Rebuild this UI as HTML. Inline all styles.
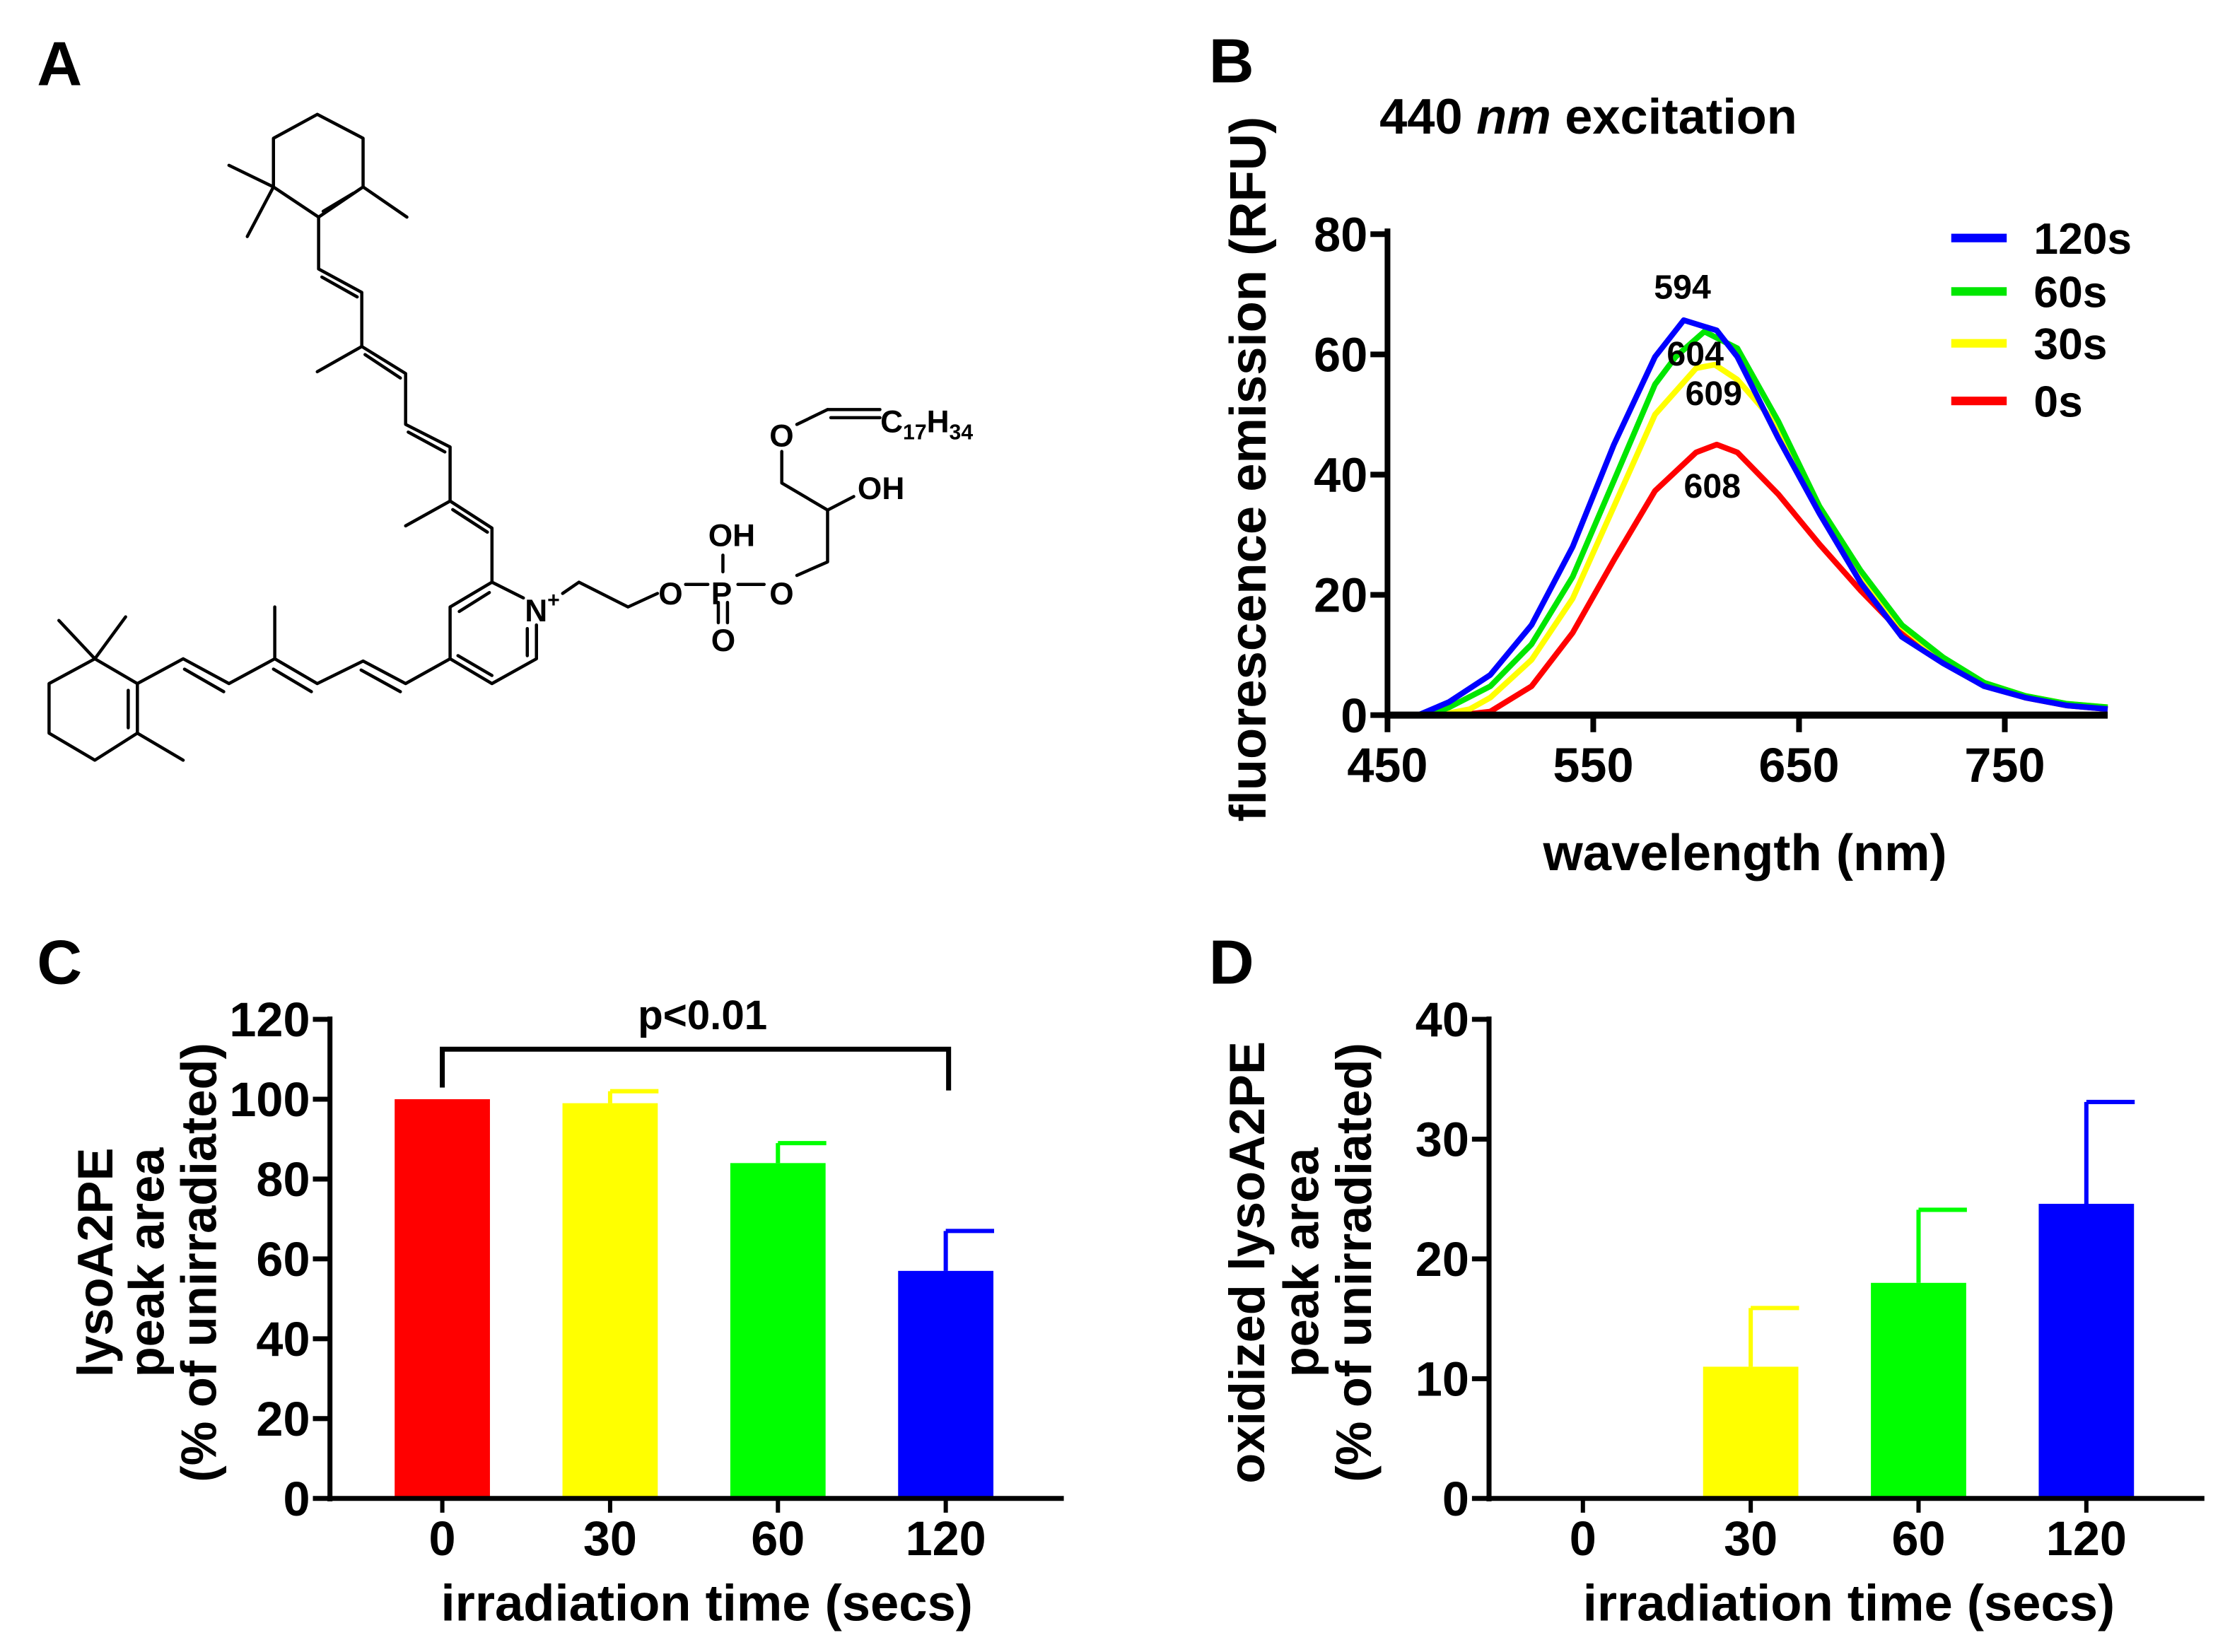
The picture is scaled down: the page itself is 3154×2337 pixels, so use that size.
<!DOCTYPE html>
<html><head><meta charset="utf-8"><style>
html,body{margin:0;padding:0;background:#fff;}
svg{display:block;}
text{font-family:"Liberation Sans",sans-serif;font-weight:bold;fill:#000;}
</style></head><body>
<svg id="fig" width="3154" height="2337" viewBox="0 0 1568 1162" preserveAspectRatio="none" xmlns="http://www.w3.org/2000/svg">
<rect width="1568" height="1162" fill="#fff"/>
<text x="26" y="60" font-size="44">A</text>
<text x="850" y="58" font-size="44">B</text>
<text x="26" y="692" font-size="44">C</text>
<text x="850" y="692" font-size="44">D</text>

<!-- Panel A structure -->
<g>
<g transform="translate(0,49.7) scale(0.46,0.317)" fill="none" stroke="#000" stroke-width="4.5" vector-effect="non-scaling-stroke" stroke-linejoin="round" stroke-linecap="round">
<polyline vector-effect="non-scaling-stroke" points="485,97 555,150 555,258 487,325 418,258 418,150 485,97"/>
<line vector-effect="non-scaling-stroke" x1="540" y1="272" x2="494" y2="312"/>
<line vector-effect="non-scaling-stroke" x1="418" y1="258" x2="350" y2="210"/>
<line vector-effect="non-scaling-stroke" x1="418" y1="258" x2="378" y2="368"/>
<line vector-effect="non-scaling-stroke" x1="555" y1="258" x2="622" y2="325"/>
<polyline vector-effect="non-scaling-stroke" points="487,325 487,440 553,492 553,612 620,672 620,785 688,835 688,955 752,1015 752,1135"/>
<line vector-effect="non-scaling-stroke" x1="492" y1="458" x2="546" y2="502"/>
<line vector-effect="non-scaling-stroke" x1="558" y1="630" x2="612" y2="682"/>
<line vector-effect="non-scaling-stroke" x1="624" y1="802" x2="680" y2="846"/>
<line vector-effect="non-scaling-stroke" x1="692" y1="974" x2="745" y2="1024"/>
<line vector-effect="non-scaling-stroke" x1="553" y1="612" x2="485" y2="668"/>
<line vector-effect="non-scaling-stroke" x1="688" y1="955" x2="620" y2="1010"/>
<polyline vector-effect="non-scaling-stroke" points="800,1170 752,1135 688,1190 688,1305 752,1360 820,1305 820,1230"/>
<line vector-effect="non-scaling-stroke" x1="702" y1="1200" x2="748" y2="1158"/>
<line vector-effect="non-scaling-stroke" x1="700" y1="1298" x2="752" y2="1342"/>
<line vector-effect="non-scaling-stroke" x1="806" y1="1298" x2="806" y2="1238"/>
<polyline vector-effect="non-scaling-stroke" points="860,1160 885,1135 960,1190 1005,1160"/>
<line vector-effect="non-scaling-stroke" x1="1048" y1="1140" x2="1082" y2="1140"/>
<line vector-effect="non-scaling-stroke" x1="1128" y1="1140" x2="1168" y2="1140"/>
<line vector-effect="non-scaling-stroke" x1="1105" y1="1112" x2="1105" y2="1075"/>
<line vector-effect="non-scaling-stroke" x1="1098" y1="1180" x2="1098" y2="1225"/>
<line vector-effect="non-scaling-stroke" x1="1112" y1="1180" x2="1112" y2="1225"/>
<polyline vector-effect="non-scaling-stroke" points="1218,1120 1265,1090 1265,975 1195,915 1195,845"/>
<line vector-effect="non-scaling-stroke" x1="1265" y1="975" x2="1305" y2="945"/>
<line vector-effect="non-scaling-stroke" x1="1218" y1="785" x2="1265" y2="752"/>
<line vector-effect="non-scaling-stroke" x1="1265" y1="752" x2="1345" y2="752"/>
<line vector-effect="non-scaling-stroke" x1="1270" y1="770" x2="1345" y2="770"/>
<polyline vector-effect="non-scaling-stroke" points="688,1305 620,1360 555,1310 485,1360 420,1305 350,1360 280,1305 210,1360"/>
<line vector-effect="non-scaling-stroke" x1="612" y1="1378" x2="552" y2="1330"/>
<line vector-effect="non-scaling-stroke" x1="476" y1="1378" x2="418" y2="1328"/>
<line vector-effect="non-scaling-stroke" x1="342" y1="1378" x2="282" y2="1328"/>
<line vector-effect="non-scaling-stroke" x1="420" y1="1305" x2="420" y2="1190"/>
<polyline vector-effect="non-scaling-stroke" points="210,1360 145,1305 75,1360 75,1470 145,1530 210,1470 210,1360"/>
<line vector-effect="non-scaling-stroke" x1="196" y1="1375" x2="196" y2="1458"/>
<line vector-effect="non-scaling-stroke" x1="145" y1="1305" x2="90" y2="1220"/>
<line vector-effect="non-scaling-stroke" x1="145" y1="1305" x2="192" y2="1212"/>
<line vector-effect="non-scaling-stroke" x1="210" y1="1470" x2="280" y2="1530"/>
</g>
<g font-size="22">
<text x="369" y="437">N<tspan font-size="15" dy="-10">+</tspan></text>
<text x="463" y="425">O</text>
<text x="500" y="425">P</text>
<text x="541" y="425">O</text>
<text x="498" y="384">OH</text>
<text x="500" y="458">O</text>
<text x="541" y="314">O</text>
<text x="603" y="351">OH</text>
<text x="619" y="304">C<tspan font-size="15" dy="5">17</tspan><tspan dy="-5">H</tspan><tspan font-size="15" dy="5">34</tspan></text>
</g>
</g>

<!-- Panel B -->
<g id="panelB"></g>
<!-- Panel C -->
<g id="panelC"></g>
<!-- Panel D -->
<g id="panelD"></g>
</svg>
<script>
// ---- Panel B data ----
const seriesNames = ["120s","60s","30s","0s"];
const seriesColors = ["#0000ff","#00e600","#ffff00","#ff0000"];
const wl120 = [465,480,500,520,540,560,580,594,610,620,640,660,680,700,720,740,760,780,800];
const v120  = [0,2.2,6.7,15,28,45,59.6,65.7,64,59.6,46,33.5,22,13,8.6,4.8,2.9,1.6,1];
const wl60 = [470,480,500,520,540,560,580,590,604,620,640,660,680,700,720,740,760,780,800];
const v60  = [0,1.3,4.8,11.8,23,39,55,59.6,63.8,61,48.8,34.7,24,15,9.6,5.4,3.2,1.9,1.3];
const wl30 = [475,490,500,520,540,560,580,600,609,620,640,660,680,700,720,740,760,780,800];
const v30  = [0,1,2.9,9.2,19.4,34.7,50,57.7,58.3,55.8,48,34,23,14.7,9.2,5.4,3.2,1.9,1.3];
const wl0 = [485,500,520,540,560,580,600,610,620,640,660,680,700,720,740,760,780,800];
const v0  = [0,0.6,4.8,13.7,25.8,37.3,43.7,45,43.7,36.7,28.4,20.7,13.7,9.2,5.1,2.9,1.6,1];
const xTicksB = [450,550,650,750];
const yTicksB = [0,20,40,60,80];
const peakLabels = ["594","604","609","608"];
const peakLabelPos = [[1183,210],[1192,257],[1205,285],[1204,350]];
// ---- Panel C data ----
const catsC = ["0","30","60","120"];
const valsC = [100,99,84,57];
const errC  = [0,3,5,10];
const yTicksC = [0,20,40,60,80,100,120];
// ---- Panel D data ----
const catsD = ["0","30","60","120"];
const valsD = [0,11,18,24.6];
const errD  = [0,4.9,6.1,8.5];
const yTicksD = [0,10,20,30,40];
const barColors = ["#ff0000","#ffff00","#00ff00","#0000ff"];

const NS="http://www.w3.org/2000/svg";
function mk(parent,tag,attrs,text){const e=document.createElementNS(NS,tag);for(const k in attrs)e.setAttribute(k,attrs[k]);if(text!==undefined)e.textContent=text;parent.appendChild(e);return e;}

// Panel B
(function(){
  const g=document.getElementById('panelB');
  const x0=975.6,x1=1482,y0=503,y1=164.7;
  const X=w=>x0+(w-450)*(1482-975.6)/(800-450);
  const Y=v=>y0-(v)*(y0-y1)/80;
  const wls=[wl120,wl60,wl30,wl0], vs=[v120,v60,v30,v0];
  for(let s=3;s>=0;s--){
    const pts=wls[s].map((w,i)=>X(w).toFixed(1)+','+Y(vs[s][i]).toFixed(1)).join(' ');
    const p=mk(g,'polyline',{points:pts,fill:'none',stroke:seriesColors[s],'stroke-width':4,'stroke-linejoin':'round'});
    
    
  }
  mk(g,'line',{x1:x0,y1:y1-4,x2:x0,y2:y0+2,stroke:'#000','stroke-width':4});
  mk(g,'line',{x1:x0-2,y1:y0,x2:x1,y2:y0,stroke:'#000','stroke-width':5});
  yTicksB.forEach(t=>{mk(g,'line',{x1:x0-12,y1:Y(t),x2:x0,y2:Y(t),stroke:'#000','stroke-width':4});
    const tl=mk(g,'text',{x:x0-14,y:Y(t)+12,'font-size':34,'text-anchor':'end'},t);
    
    });
  xTicksB.forEach(t=>{mk(g,'line',{x1:X(t),y1:y0,x2:X(t),y2:y0+12,stroke:'#000','stroke-width':4});
    const tl=mk(g,'text',{x:X(t),y:y0+47,'font-size':34,'text-anchor':'middle'},t);
    
    });
  peakLabels.forEach((l,i)=>{const t=mk(g,'text',{x:peakLabelPos[i][0],y:peakLabelPos[i][1],'font-size':24,'text-anchor':'middle'},l);
    
    });
  const legY=[167.4,205,241.5,282];
  seriesNames.forEach((n,i)=>{
    const l=mk(g,'line',{x1:1372,y1:legY[i],x2:1411,y2:legY[i],stroke:seriesColors[i],'stroke-width':6});
    
    
    const t=mk(g,'text',{x:1430,y:legY[i]+11,'font-size':31},n);
    
    
  });
  const tt=mk(g,'text',{x:970,y:94,'font-size':35});
  tt.innerHTML='440 <tspan font-style="italic">nm</tspan> excitation';
  
  
  const xt=mk(g,'text',{x:1227,y:612,'font-size':36,'text-anchor':'middle'},'wavelength (nm)');
  
  
  const yt=mk(g,'text',{x:0,y:0,'font-size':36,'text-anchor':'middle',transform:'translate(890,330) rotate(-90)'},'fluorescence emission (RFU)');
  
  
})();

function barChart(id,cats,vals,errs,ticks,ymax,ax,axEnd,firstCenter,yLines,yLineX,xTitleX){
  const g=document.getElementById(id);
  const y0=1054,yTop=717;
  const Y=v=>y0-v*(y0-yTop)/ymax;
  const bw=67, step=118;
  cats.forEach((c,i)=>{
    const cx=firstCenter+i*step;
    if(vals[i]>0){
      if(errs[i]>0){
        const e=mk(g,'line',{x1:cx,y1:Y(vals[i]),x2:cx,y2:Y(vals[i]+errs[i]),stroke:barColors[i],'stroke-width':3});
        
        
        mk(g,'line',{x1:cx,y1:Y(vals[i]+errs[i]),x2:cx+34,y2:Y(vals[i]+errs[i]),stroke:barColors[i],'stroke-width':3});
      }
      const r=mk(g,'rect',{x:cx-bw/2,y:Y(vals[i]),width:bw,height:y0-Y(vals[i]),fill:barColors[i]});
      
      
    }
    mk(g,'line',{x1:cx,y1:y0,x2:cx,y2:y0+10,stroke:'#000','stroke-width':3});
    const t=mk(g,'text',{x:cx,y:y0+40,'font-size':34,'text-anchor':'middle'},c);
    
    
  });
  mk(g,'line',{x1:ax,y1:yTop-2,x2:ax,y2:y0+2,stroke:'#000','stroke-width':3.5});
  mk(g,'line',{x1:ax-2,y1:y0,x2:axEnd,y2:y0,stroke:'#000','stroke-width':3.5});
  ticks.forEach(t=>{
    mk(g,'line',{x1:ax-12,y1:Y(t),x2:ax,y2:Y(t),stroke:'#000','stroke-width':3.5});
    const l=mk(g,'text',{x:ax-14,y:Y(t)+12,'font-size':34,'text-anchor':'end'},t);
    
    
  });
  const xt=mk(g,'text',{x:xTitleX,y:1140,'font-size':36,'text-anchor':'middle'},'irradiation time (secs)');
  
  
  yLines.forEach((s,i)=>{
    const t=mk(g,'text',{x:0,y:0,'font-size':35,'text-anchor':'middle',transform:'translate('+yLineX[i]+',888) rotate(-90)'},s);
    
    
  });
  return {g,Y};
}
const c=barChart('panelC',catsC,valsC,errC,yTicksC,120,232,748,311,["lysoA2PE","peak area","(% of unirradiated)"],[79,115,152],497);
const br=mk(c.g,'polyline',{points:'311,765 311,738 667,738 667,767',fill:'none',stroke:'#000','stroke-width':3.5});


const pt=mk(c.g,'text',{x:494,y:724,'font-size':29,'text-anchor':'middle'},'p<0.01');


barChart('panelD',catsD,valsD,errD,yTicksD,40,1047,1550,1113,["oxidized lysoA2PE","peak area","(% of unirradiated)"],[889,927,964],1300);
</script>
</body></html>
